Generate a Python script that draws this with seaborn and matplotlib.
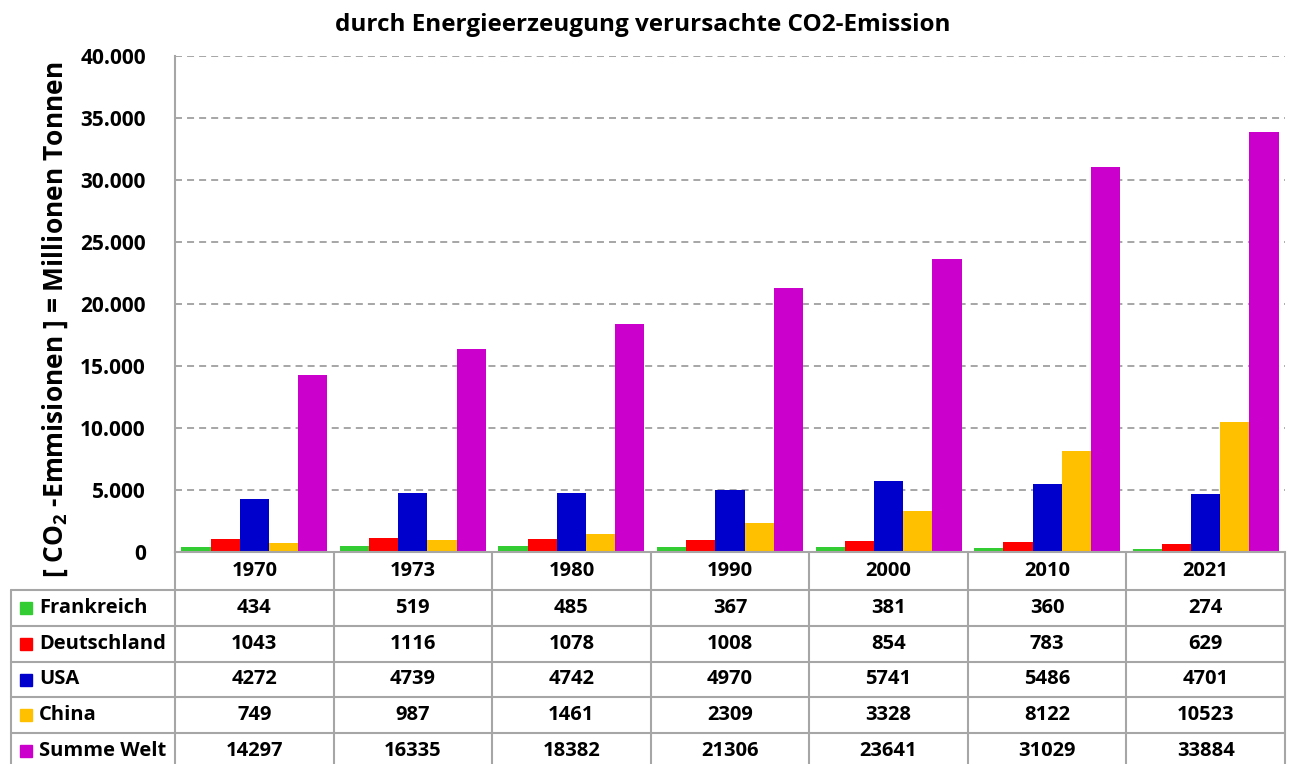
import matplotlib
matplotlib.use('Agg')
import matplotlib.pyplot as plt
import matplotlib.transforms as mtransforms
from matplotlib import font_manager
from matplotlib.ticker import FuncFormatter
import pandas as pd
import seaborn as sns

# data (Millionen Tonnen CO2)
years = ['1970', '1973', '1980', '1990', '2000', '2010', '2021']
countries = ['Frankreich', 'Deutschland', 'USA', 'China', 'Summe Welt']
frankreich = [434, 519, 485, 367, 381, 360, 274]
deutschland = [1043, 1116, 1078, 1008, 854, 783, 629]
usa = [4272, 4739, 4742, 4970, 5741, 5486, 4701]
china = [749, 987, 1461, 2309, 3328, 8122, 10523]
welt = [14297, 16335, 18382, 21306, 23641, 31029, 33884]
colors = ['#33cc33', '#ff0000', '#0000cc', '#ffc000', '#cc00cc']

series = [frankreich, deutschland, usa, china, welt]
rows = []
for name, vals in zip(countries, series):
    for yr, v in zip(years, vals):
        rows.append({'Jahr': yr, 'Land': name, 'Wert': v})
df = pd.DataFrame(rows)

# pick a family that really has a bold face installed
bold_fams = {f.name for f in font_manager.fontManager.ttflist
             if f.weight in ('bold', 600, 700, 'semibold', 'demibold') or
             (isinstance(f.weight, int) and f.weight >= 600)}
fam = next((n for n in ['Open Sans', 'Lato', 'Noto Sans', 'Roboto', 'Liberation Sans']
            if n in bold_fams), 'DejaVu Sans')

sns.set_style('white')
plt.rcParams['font.family'] = [fam, 'DejaVu Sans']
plt.rcParams['font.weight'] = 'bold'
plt.rcParams['text.color'] = 'black'
plt.rcParams['ytick.color'] = 'black'
plt.rcParams['mathtext.default'] = 'regular'

W, H = 1293, 764
fig = plt.figure(figsize=(W / 100, H / 100), dpi=100)
ax = fig.add_axes([175 / W, 1 - 552 / H, (1285 - 175) / W, (552 - 56) / H])

sns.barplot(data=df, x='Jahr', y='Wert', hue='Land', hue_order=countries,
            order=years, palette=colors, saturation=1, width=0.92, gap=0,
            linewidth=0, legend=False, ax=ax)

ax.set_ylim(0, 40000)
ax.set_xlim(-0.5, len(years) - 0.5)
ax.set_yticks(range(0, 40001, 5000))
ax.yaxis.set_major_formatter(FuncFormatter(lambda v, p: f'{v:,.0f}'.replace(',', '.')))
ax.tick_params(axis='y', length=0, pad=21, labelsize=15, labelcolor='black')
ax.tick_params(axis='x', length=0, labelbottom=False)
ax.set_xlabel('')
ax.set_ylabel('')
for lab in ax.get_yticklabels():
    lab.set_fontweight('bold')

ax.grid(axis='y', color='#a6a6a6', linestyle=(0, (3.6, 2.6)), linewidth=1.4)
ax.set_axisbelow(True)
for s in ['top', 'right']:
    ax.spines[s].set_visible(False)
for s in ['left', 'bottom']:
    ax.spines[s].set_color('#a6a6a6')
    ax.spines[s].set_linewidth(1.5)

fig.text(643 / W, 1 - 25 / H, 'durch Energieerzeugung verursachte CO2-Emission',
         ha='center', va='center', fontsize=17.5, fontweight='bold')
fig.text(55 / W, 1 - 320 / H, '[ CO$_2$ -Emmisionen ] = Millionen Tonnen',
         ha='center', va='center', rotation=90, fontsize=19, fontweight='bold')

# data table below the plot
line_c = '#a6a6a6'
fy = lambda py: 1 - py / H
fx = lambda px: px / W
header_top, header_bot, row_h = 552, 590, 35.8
row_lines = [header_bot + i * row_h for i in range(len(countries) + 1)]
col_w = (1285 - 175) / len(years)
col_edges = [175 + i * col_w for i in range(len(years) + 1)]

for y in row_lines[:-1]:
    fig.add_artist(plt.Line2D([fx(11), fx(1285)], [fy(y), fy(y)], color=line_c, lw=1.5))
for x in col_edges:
    fig.add_artist(plt.Line2D([fx(x), fx(x)], [fy(header_top), fy(H + 10)], color=line_c, lw=1.5))
fig.add_artist(plt.Line2D([fx(11), fx(11)], [fy(header_bot), fy(H + 10)], color=line_c, lw=1.5))

trans = mtransforms.blended_transform_factory(ax.transData, fig.transFigure)
for i, yr in enumerate(years):
    fig.text(i, fy((header_top + header_bot) / 2), yr, transform=trans,
             ha='center', va='center', fontsize=14.5, fontweight='bold')
for r, (name, vals, c) in enumerate(zip(countries, series, colors)):
    yc = fy(header_bot + (r + 0.5) * row_h)
    fig.add_artist(plt.Rectangle((fx(20), yc - 6 / H), 12 / W, 12 / H, color=c,
                                 transform=fig.transFigure))
    fig.text(fx(39), yc, name, ha='left', va='center', fontsize=14.5, fontweight='bold')
    for i, v in enumerate(vals):
        fig.text(i, yc, str(v), transform=trans, ha='center', va='center',
                 fontsize=14.5, fontweight='bold')

fig.savefig('out.png', dpi=100)
